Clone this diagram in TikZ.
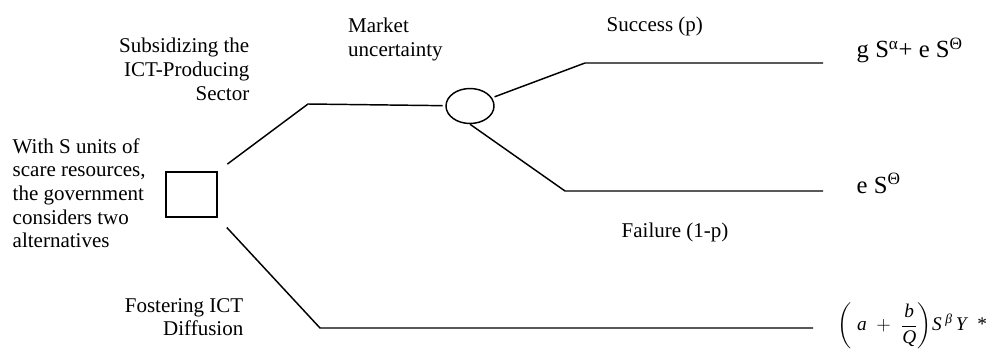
\documentclass[tikz,border=0pt]{standalone}
\usepackage{amsmath}
\usepackage{fontspec}
\setmainfont{Liberation Serif}
\usetikzlibrary{shapes.geometric}
\tikzset{
  lbl/.style={inner sep=0pt,font=\fontsize{15.75}{17.8}\selectfont},
  pay/.style={inner sep=0pt,anchor=base west,font=\fontsize{18.5}{20}\selectfont},
}
\begin{document}
\begin{tikzpicture}[x=0.75pt,y=-0.75pt,line width=1.1pt]
\useasboundingbox (0,0) rectangle (987,356);
% decision box and chance node
\node[draw,minimum width=38.25pt,minimum height=33.75pt,inner sep=0pt] (dec) at (191.5,194.5) {};
\node[draw,ellipse,minimum width=36pt,minimum height=26.25pt,inner sep=0pt] (chance) at (470,106) {};
% bends and free ends of the branches
\coordinate (sub) at (308,104);
\coordinate (suc) at (585,63);
\coordinate (sucend) at (823,63);
\coordinate (fail) at (565,191);
\coordinate (failend) at (823,191);
\coordinate (fos) at (320,328);
\coordinate (fosend) at (813,328);
\draw[shorten <=9pt,shorten >=2pt] (dec.north east) -- (sub) -- (chance);
\draw[shorten <=2pt] (chance) -- (suc) -- (sucend);
\draw (chance.south) -- (fail) -- (failend);
\draw[shorten <=10pt] (dec.south east) -- (fos) -- (fosend);
% labels
\node[lbl,align=left,anchor=north west] (res) at (12,137.5) {With S units of\\scare resources,\\the government\\considers two\\alternatives};
\node[lbl,align=right,anchor=north east] (subs) at (250,37.5) {Subsidizing the\\ICT-Producing\\Sector};
\node[lbl,align=left,anchor=north west] (mkt) at (347.5,17.5) {Market\\uncertainty};
\node[lbl,anchor=base west] (succ) at (606,32) {Success (p)};
\node[lbl,anchor=base west] (failure) at (621,237) {Failure (1-p)};
\node[lbl,align=right,anchor=north east] (fost) at (244,297.5) {Fostering ICT\\Diffusion};
% payoffs
\node[pay] (paya) at (856,58) {g S\textsuperscript{α}+ e S\textsuperscript{Θ}};
\node[pay] (payb) at (856,193) {e S\textsuperscript{Θ}};
\node[anchor=west,inner sep=0pt,font=\fontsize{14.5}{16}\selectfont] (payc) at (837,326)
  {$\left(\;\textit{a} \;+\; \dfrac{\textit{b}}{\textit{Q}}\right)\!\textit{S}^{\;\textit{β}}\,\textit{Y}\;\;\text{*}$};
\end{tikzpicture}
\end{document}
